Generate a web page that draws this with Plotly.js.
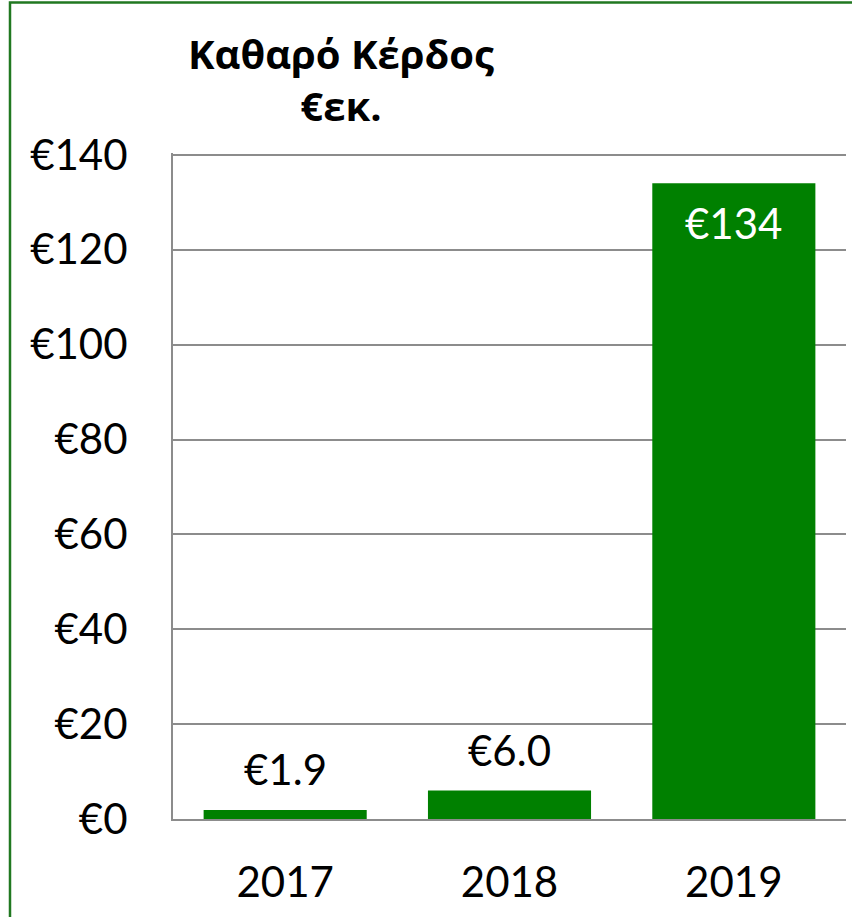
<!DOCTYPE html>
<html>
<head>
<meta charset="utf-8">
<script src="https://cdn.plot.ly/plotly-3.0.1.min.js"></script>
<style>html,body{margin:0;padding:0;background:#fff;}#chart{width:852px;height:917px;}</style>
</head>
<body>
<div id="chart"></div>
<script>
const years = ['2017', '2018', '2019'];
const netProfit = [1.9, 6.0, 134];
const valueLabels = ['€1.9', '€6.0', '€134'];
const chartTitle = '<b>Καθαρό Κέρδος</b><br><b>€εκ.</b>';

const numFont = 'Lato, "Open Sans", sans-serif';
const gridCol = '#8c8c8c';

const trace = {
  type: 'bar',
  x: years,
  y: netProfit,
  marker: {color: '#008000'}
};

const annotations = years.map((yr, i) => {
  const inside = i === years.length - 1;
  return {
    x: i, y: netProfit[i], xref: 'x', yref: 'y',
    xanchor: 'center',
    text: valueLabels[i], showarrow: false,
    yanchor: inside ? 'top' : 'bottom',
    yshift: inside ? -13 : 14,
    font: {family: numFont, size: 42, color: inside ? '#ffffff' : '#000000'}
  };
});

const layout = {
  width: 852, height: 917,
  margin: {l: 173, r: 6, t: 153, b: 98},
  paper_bgcolor: '#ffffff', plot_bgcolor: '#ffffff',
  showlegend: false,
  bargap: 0.273,
  title: {
    text: chartTitle,
    xref: 'paper', x: 0.2496, xanchor: 'center',
    yref: 'container', y: 0.925, yanchor: 'top',
    font: {family: '"Open Sans", "Noto Sans", sans-serif', size: 40, color: '#000000'}
  },
  xaxis: {
    type: 'category',
    categoryorder: 'array', categoryarray: years,
    range: [-0.5, 2.5],
    showgrid: false, zeroline: false,
    showline: true, linecolor: gridCol, linewidth: 2,
    ticks: 'outside', ticklen: 26, tickcolor: 'rgba(0,0,0,0)',
    tickfont: {family: numFont, size: 42, color: '#000000'}
  },
  yaxis: {
    range: [0, 140.4], dtick: 20, tick0: 0,
    tickprefix: '€',
    showgrid: true, gridcolor: gridCol, gridwidth: 2,
    zeroline: false,
    showline: true, linecolor: gridCol, linewidth: 2,
    ticks: 'outside', ticklen: 35, tickcolor: 'rgba(0,0,0,0)',
    tickfont: {family: numFont, size: 42, color: '#000000'}
  },
  annotations: annotations,
  shapes: [{
    type: 'rect', xref: 'paper', yref: 'paper',
    x0: -0.2422, x1: 1.1, y0: -0.3, y1: 1.2259,
    line: {color: '#217821', width: 2.5}, layer: 'above'
  }]
};

Plotly.newPlot('chart', [trace], layout, {displayModeBar: false});
</script>
</body>
</html>
